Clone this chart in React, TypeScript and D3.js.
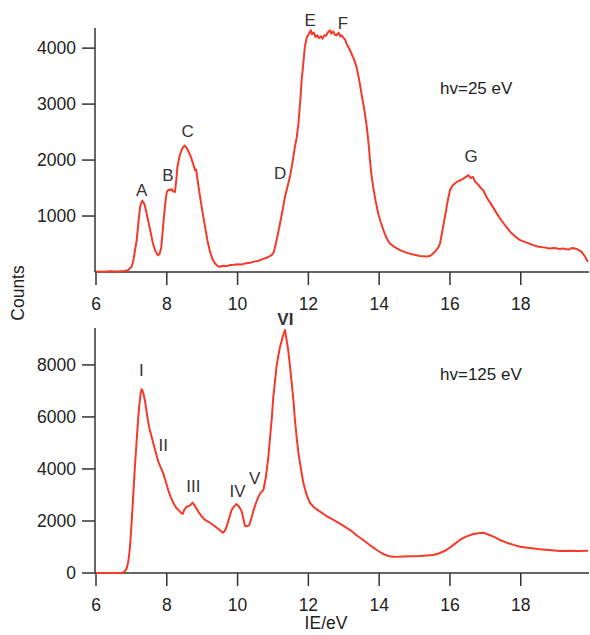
import React from "react";
import * as d3 from "d3";

const xTicks = [6, 8, 10, 12, 14, 16, 18];
const topYTicks = [1000, 2000, 3000, 4000];
const bottomYTicks = [0, 2000, 4000, 6000, 8000];

const topEnergy = [
  6.0, 6.2, 6.4, 6.6, 6.8, 6.9, 7.0, 7.05, 7.1, 7.15, 7.2, 7.25, 7.31, 7.37, 7.43, 7.48, 7.53, 7.58, 7.62, 7.68,
  7.73, 7.76, 7.8, 7.84, 7.88, 7.92, 7.96, 8.0, 8.05, 8.09, 8.14, 8.18, 8.23, 8.27, 8.3, 8.34, 8.37, 8.43, 8.5, 8.55,
  8.6, 8.66, 8.72, 8.8, 8.83, 8.88, 8.94, 9.0, 9.08, 9.15, 9.22, 9.29, 9.36, 9.43, 9.5, 9.6, 9.7, 9.79, 9.9, 10.0,
  10.1, 10.2, 10.35, 10.5, 10.6, 10.7, 10.8, 10.9, 10.96, 11.02, 11.06, 11.13, 11.2, 11.27, 11.34, 11.4, 11.48, 11.55, 11.62, 11.67,
  11.72, 11.77, 11.81, 11.86, 11.9, 11.95, 12.0, 12.03, 12.07, 12.1, 12.15, 12.2, 12.25, 12.3, 12.35, 12.4, 12.45, 12.5, 12.55, 12.61,
  12.65, 12.7, 12.75, 12.8, 12.85, 12.9, 12.94, 13.0, 13.04, 13.08, 13.15, 13.22, 13.29, 13.36, 13.43, 13.5, 13.58, 13.65, 13.7, 13.74,
  13.78, 13.83, 13.9, 13.97, 14.05, 14.12, 14.2, 14.3, 14.45, 14.59, 14.75, 14.9, 15.06, 15.15, 15.25, 15.35, 15.45, 15.53, 15.6, 15.67,
  15.72, 15.79, 15.86, 15.93, 16.0, 16.07, 16.14, 16.22, 16.3, 16.38, 16.45, 16.52, 16.58, 16.65, 16.71, 16.8, 16.87, 16.94, 17.05, 17.18,
  17.3, 17.41, 17.55, 17.7, 17.85, 17.98, 18.15, 18.35, 18.5, 18.65, 18.82, 18.95, 19.1, 19.2, 19.35, 19.45, 19.53, 19.62, 19.72, 19.8,
  19.9,
];
const topCounts = [
  10, 5, 15, 10, 20, 30, 90, 184, 380, 570, 900, 1180, 1275, 1210, 1050, 900, 750, 600, 480, 370,
  320, 300, 330, 430, 700, 990, 1250, 1430, 1470, 1460, 1480, 1440, 1430, 1650, 1880, 2000, 2090, 2200, 2260, 2230,
  2170, 2090, 1980, 1820, 1830, 1600, 1345, 1100, 810, 560, 363, 230, 155, 110, 95, 110, 105, 125, 130, 140,
  135, 150, 166, 190, 200, 230, 250, 280, 300, 350, 450, 650, 870, 1100, 1345, 1500, 1700, 1950, 2240, 2400,
  2655, 3050, 3430, 3750, 4020, 4180, 4240, 4275, 4320, 4250, 4280, 4200, 4230, 4180, 4210, 4170, 4230, 4220, 4280, 4320,
  4260, 4300, 4240, 4230, 4280, 4210, 4230, 4180, 4150, 4080, 4000, 3900, 3800, 3665, 3450, 3190, 2900, 2595, 2300, 2000,
  1750, 1520, 1270, 1050, 880, 750, 620, 510, 440, 390, 350, 320, 300, 285, 280, 275, 290, 335, 380, 440,
  510, 750, 990, 1250, 1460, 1540, 1580, 1620, 1640, 1670, 1700, 1730, 1680, 1700, 1615, 1560, 1500, 1460, 1320, 1195,
  1070, 960, 840, 720, 630, 570, 530, 480, 450, 440, 420, 430, 410, 420, 400, 430, 420, 400, 360, 290,
  185,
];

const bottomEnergy = [
  6.0, 6.5, 6.7, 6.77, 6.82, 6.87, 6.92, 6.96, 7.0, 7.05, 7.1, 7.15, 7.19, 7.22, 7.26, 7.29, 7.33, 7.38, 7.43, 7.48,
  7.52, 7.57, 7.62, 7.67, 7.72, 7.76, 7.83, 7.9, 7.97, 8.04, 8.11, 8.19, 8.26, 8.33, 8.39, 8.45, 8.5, 8.56, 8.64, 8.73,
  8.81, 8.89, 8.98, 9.08, 9.2, 9.31, 9.45, 9.58, 9.64, 9.69, 9.76, 9.83, 9.9, 9.97, 10.04, 10.12, 10.17, 10.21, 10.27, 10.33,
  10.39, 10.44, 10.52, 10.59, 10.66, 10.73, 10.8, 10.87, 10.92, 10.97, 11.01, 11.06, 11.1, 11.15, 11.2, 11.25, 11.29, 11.34, 11.38, 11.43,
  11.48, 11.53, 11.58, 11.62, 11.67, 11.72, 11.79, 11.86, 11.95, 12.05, 12.18, 12.33, 12.5, 12.71, 12.95, 13.18, 13.35, 13.55, 13.75, 13.93,
  14.1, 14.31, 14.5, 14.68, 14.9, 15.15, 15.35, 15.53, 15.7, 15.9, 16.1, 16.28, 16.45, 16.66, 16.8, 16.94, 17.08, 17.23, 17.4, 17.6,
  17.8, 17.98, 18.25, 18.54, 18.8, 19.1, 19.4, 19.65, 19.9,
];
const bottomCounts = [
  0, 0, 0, 20, 80, 180, 500, 1010, 1800, 2935, 4100, 5115, 5900, 6400, 6900, 7065, 6950, 6650, 6200, 5755,
  5500, 5245, 4980, 4730, 4480, 4280, 4050, 3835, 3520, 3190, 2930, 2680, 2520, 2420, 2330, 2270, 2450, 2550, 2580, 2705,
  2550, 2360, 2180, 2040, 1950, 1845, 1700, 1550, 1620, 1780, 2100, 2420, 2560, 2650, 2560, 2360, 2050, 1810, 1800, 1845,
  2100, 2360, 2700, 2935, 3100, 3190, 3700, 4470, 5240, 6000, 6780, 7400, 7935, 8350, 8700, 8950, 9150, 9345, 9000, 8575,
  7950, 7295, 6600, 5885, 5200, 4600, 4000, 3450, 3000, 2680, 2500, 2360, 2200, 2040, 1850, 1650, 1460, 1270, 1060, 885,
  740, 630, 620, 630, 640, 650, 670, 690, 760, 885, 1080, 1270, 1400, 1500, 1530, 1550, 1480, 1400, 1280, 1165,
  1080, 1010, 960, 910, 880, 845, 860, 850, 860,
];

const topLabels = ["A", "B", "C", "D", "E", "F", "G"];
const bottomLabels = ["I", "II", "III", "IV", "V", "VI"];

const FONT = "'Liberation Sans', Arial, sans-serif";
const AXIS = "#333";
const LINE = "#f53a2a";

const x = d3.scaleLinear().domain([6, 19.9]).range([96, 588]);
const yTop = d3.scaleLinear().domain([0, 4360]).range([272, 28]);
const yBot = d3.scaleLinear().domain([0, 9420]).range([573, 328]);

// label anchor positions (energy, counts) placed in data space
const topLabelPos: [number, number][] = [
  [7.29, 1360], [8.03, 1620], [8.59, 2420], [11.2, 1670], [12.05, 4400], [12.98, 4340], [16.6, 1970],
];
const bottomLabelPos: [number, number][] = [
  [7.28, 7560], [7.9, 4680], [8.75, 3120], [10.0, 2930], [10.48, 3420], [11.35, 9520],
];

function Panel({ y, energy, counts, yTicks, labels, labelPos, note, noteY, boldLast }: any) {
  const [y0, y1] = y.range();
  const line = d3
    .line<number>()
    .x((_, i) => x(energy[i]))
    .y((c) => y(c))
    .curve(d3.curveLinear);
  return (
    <g>
      <line x1={95} x2={95} y1={y1} y2={y0} stroke={AXIS} strokeWidth={1.5} />
      <line x1={95} x2={589} y1={y0} y2={y0} stroke={AXIS} strokeWidth={1.5} />
      {xTicks.map((t) => (
        <g key={t}>
          <line x1={x(t)} x2={x(t)} y1={y0} y2={y0 + 13} stroke={AXIS} strokeWidth={1.5} />
          <text x={x(t)} y={y0 + 38} textAnchor="middle" fontSize={17.5} fill="#222" fontFamily={FONT}>
            {t}
          </text>
        </g>
      ))}
      {yTicks.map((t: number) => (
        <g key={t}>
          <line x1={82} x2={95} y1={y(t)} y2={y(t)} stroke={AXIS} strokeWidth={1.5} />
          <text x={76} y={y(t)} dy="0.35em" textAnchor="end" fontSize={17.5} fill="#222" fontFamily={FONT}>
            {t}
          </text>
        </g>
      ))}
      <path d={line(counts) || ""} fill="none" stroke={LINE} strokeWidth={2} strokeLinejoin="round" />
      {labels.map((l: string, i: number) => (
        <text
          key={l}
          x={x(labelPos[i][0])}
          y={y(labelPos[i][1])}
          textAnchor="middle"
          fontSize={17}
          fill="#333"
          fontFamily={FONT}
          fontWeight={boldLast && i === labels.length - 1 ? "bold" : "normal"}
        >
          {l}
        </text>
      ))}
      <text x={440} y={noteY} fontSize={17} fill="#222" fontFamily={FONT}>
        {note}
      </text>
    </g>
  );
}

export default function App() {
  return (
    <svg width={590} height={635} style={{ position: "absolute", left: 0, top: 0, background: "#fff" }}>
      <Panel
        y={yTop}
        energy={topEnergy}
        counts={topCounts}
        yTicks={topYTicks}
        labels={topLabels}
        labelPos={topLabelPos}
        note="hv=25 eV"
        noteY={94}
      />
      <Panel
        y={yBot}
        energy={bottomEnergy}
        counts={bottomCounts}
        yTicks={bottomYTicks}
        labels={bottomLabels}
        labelPos={bottomLabelPos}
        note="hv=125 eV"
        noteY={380}
        boldLast
      />
      <text
        transform="translate(24,293) rotate(-90)"
        textAnchor="middle"
        fontSize={17.5}
        fill="#222"
        fontFamily={FONT}
      >
        Counts
      </text>
      <text x={326} y={629} textAnchor="middle" fontSize={17.5} fill="#222" fontFamily={FONT}>
        IE/eV
      </text>
    </svg>
  );
}
